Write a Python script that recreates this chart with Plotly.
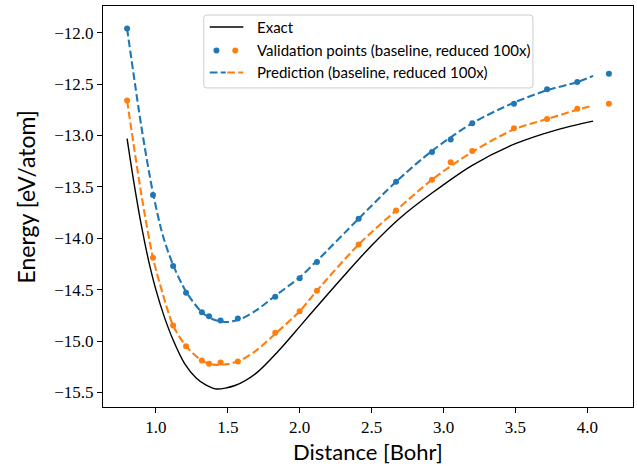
import plotly.graph_objects as go

# ---------------- data ----------------
val_x = [0.80, 0.98, 1.12, 1.21, 1.32, 1.37, 1.45, 1.57, 1.83, 2.00,
         2.12, 2.41, 2.67, 2.92, 3.05, 3.20, 3.49, 3.72, 3.93, 4.15]
val_blue = [-11.96, -13.58, -14.27, -14.53, -14.72, -14.76, -14.80, -14.78, -14.57, -14.39,
            -14.23, -13.81, -13.45, -13.16, -13.04, -12.88, -12.69, -12.55, -12.48, -12.40]
val_orange = [-12.66, -14.19, -14.85, -15.05, -15.19, -15.22, -15.21, -15.20, -14.92, -14.71,
              -14.51, -14.06, -13.73, -13.43, -13.26, -13.15, -12.93, -12.84, -12.74, -12.69]

exact_x = [0.80, 0.85, 0.90, 0.95, 1.00, 1.06, 1.12, 1.20, 1.28, 1.35, 1.42, 1.55,
           1.70, 1.85, 2.00, 2.16, 2.33, 2.50, 2.70, 2.92, 3.20, 3.50, 3.80, 4.04]
exact_y = [-13.03, -13.48, -13.88, -14.22, -14.50, -14.77, -14.99, -15.22, -15.36, -15.43, -15.467, -15.433,
           -15.31, -15.10, -14.86, -14.60, -14.33, -14.07, -13.80, -13.56, -13.29, -13.08, -12.94, -12.86]

pred_x = [0.80, 0.90, 0.98, 1.05, 1.12, 1.21, 1.32, 1.40, 1.50, 1.60, 1.70, 1.83, 2.00,
          2.12, 2.41, 2.67, 2.92, 3.20, 3.49, 3.72, 3.93, 4.04]
pred_blue = [-11.96, -12.92, -13.56, -13.98, -14.26, -14.52, -14.72, -14.79, -14.815, -14.78, -14.70, -14.56, -14.38,
             -14.22, -13.81, -13.45, -13.15, -12.88, -12.68, -12.56, -12.48, -12.42]
pred_orange = [-12.66, -13.58, -14.19, -14.55, -14.85, -15.05, -15.19, -15.23, -15.225, -15.18, -15.09, -14.93, -14.71,
               -14.51, -14.06, -13.73, -13.43, -13.16, -12.94, -12.84, -12.75, -12.71]

x_ticks = [1.0, 1.5, 2.0, 2.5, 3.0, 3.5, 4.0]
y_ticks = [-12.0, -12.5, -13.0, -13.5, -14.0, -14.5, -15.0, -15.5]

legend_labels = ["Exact", "Validation points (baseline, reduced 100x)",
                 "Prediction (baseline, reduced 100x)"]

BLUE = "#1f77b4"
ORANGE = "#ff7f0e"
DASH = "7.7px,3.3px"
TICKFONT = "Liberation Serif"
SANS = "Lato, sans-serif"

fig = go.Figure()
fig.add_trace(go.Scatter(x=exact_x, y=exact_y, mode="lines",
                         line=dict(color="black", width=1.4, shape="spline", smoothing=0.8),
                         showlegend=False))
fig.add_trace(go.Scatter(x=pred_x, y=pred_blue, mode="lines",
                         line=dict(color=BLUE, width=2.1, dash=DASH, shape="spline", smoothing=0.8),
                         showlegend=False))
fig.add_trace(go.Scatter(x=pred_x, y=pred_orange, mode="lines",
                         line=dict(color=ORANGE, width=2.1, dash=DASH, shape="spline", smoothing=0.8),
                         showlegend=False))
fig.add_trace(go.Scatter(x=val_x, y=val_blue, mode="markers", marker=dict(color=BLUE, size=6),
                         showlegend=False))
fig.add_trace(go.Scatter(x=val_x, y=val_orange, mode="markers", marker=dict(color=ORANGE, size=6),
                         showlegend=False))

# ---------------- layout geometry ----------------
W, H = 637, 466
L, R, T, B = 103.3, 633.0, 6.0, 407.3
pw, ph = R - L, B - T


def px(X):
    return (X - L) / pw


def py(Y):
    return (B - Y) / ph


# custom legend (matplotlib-style, with tuple handles)
shapes = []
lx0, lx1, ly0, ly1, rad = 204, 533, 15, 88, 3
rx, ry = rad / pw, rad / ph
a, b_, c, d = px(lx0), px(lx1), py(ly0), py(ly1)
path = (f"M {a+rx},{c} L {b_-rx},{c} Q {b_},{c} {b_},{c-ry} L {b_},{d+ry} Q {b_},{d} {b_-rx},{d} "
        f"L {a+rx},{d} Q {a},{d} {a},{d+ry} L {a},{c-ry} Q {a},{c} {a+rx},{c} Z")
shapes.append(dict(type="path", path=path, xref="paper", yref="paper",
                   fillcolor="rgba(255,255,255,0.8)", line=dict(color="#cccccc", width=1)))
rows = [27, 50.5, 72.5]
shapes.append(dict(type="line", xref="paper", yref="paper", x0=px(210), x1=px(243.5),
                   y0=py(rows[0]), y1=py(rows[0]), line=dict(color="black", width=1.4)))
for cx, col in [(216.7, BLUE), (235.5, ORANGE)]:
    shapes.append(dict(type="circle", xref="paper", yref="paper", x0=px(cx - 3), x1=px(cx + 3),
                       y0=py(rows[1] + 3), y1=py(rows[1] - 3), fillcolor=col, line=dict(width=0)))
for x0, x1, col in [(210, 226, BLUE), (227.5, 243.5, ORANGE)]:
    shapes.append(dict(type="line", xref="paper", yref="paper", x0=px(x0), x1=px(x1),
                       y0=py(rows[2]), y1=py(rows[2]), line=dict(color=col, width=2.1, dash=DASH)))

annotations = []
for r, txt in zip(rows, legend_labels):
    annotations.append(dict(text=txt, xref="paper", yref="paper", x=px(255), y=py(r),
                            xanchor="left", yanchor="middle", showarrow=False,
                            font=dict(family=SANS, size=15, color="black")))
# axis titles as annotations for exact placement
annotations.append(dict(text="Distance [Bohr]", xref="paper", yref="paper", x=px(368), y=py(452),
                        xanchor="center", yanchor="middle", showarrow=False,
                        font=dict(family=SANS, size=22, color="black")))
annotations.append(dict(text="Energy [eV/atom]", xref="paper", yref="paper", x=px(26), y=py(197),
                        xanchor="center", yanchor="middle", showarrow=False, textangle=-90,
                        font=dict(family=SANS, size=23, color="black")))

axis_common = dict(showgrid=False, zeroline=False, showline=True, linecolor="black", linewidth=1.1,
                   mirror=True, ticks="outside", ticklen=5, tickwidth=1.1, tickcolor="black",
                   automargin=False,
                   tickfont=dict(family=TICKFONT, size=17, color="black"))

fig.update_layout(
    width=W, height=H,
    margin=dict(l=L, r=W - R, t=T, b=H - B, pad=0, autoexpand=False),
    paper_bgcolor="white", plot_bgcolor="white",
    showlegend=False,
    xaxis=dict(range=[0.6325, 4.3175], tickvals=x_ticks, ticktext=[f"{v:.1f}" for v in x_ticks],
               ticklabelstandoff=0, **axis_common),
    yaxis=dict(range=[-15.642, -11.74], tickvals=y_ticks,
               ticktext=[f"\u2212{abs(v):.1f}" for v in y_ticks],
               **axis_common),
    shapes=shapes, annotations=annotations,
)

fig.write_html("out.html", config={"displayModeBar": False},
               post_script="document.body.style.margin='0';document.body.style.padding='0';")
